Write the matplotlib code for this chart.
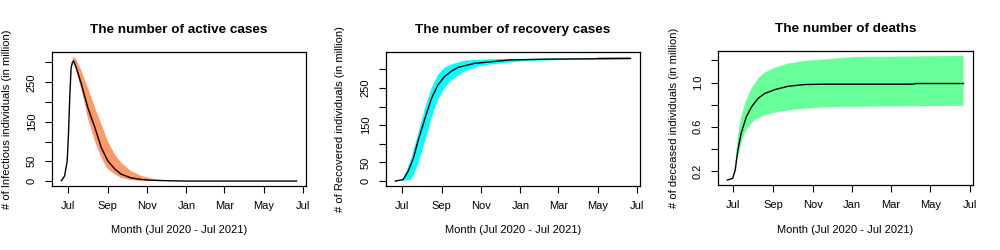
import numpy as np
import matplotlib
matplotlib.use("Agg")
import matplotlib.pyplot as plt
import matplotlib.dates as mdates
import datetime as dt

plt.rcParams['font.family'] = ['Liberation Sans', 'DejaVu Sans']

# Day offsets relative to 2020-07-01
active_days = [-10, -5, -1, 1, 3, 5, 7, 9, 13, 21, 31, 42, 52, 62, 73, 83, 98, 114, 124, 150, 180, 355]
active_vals = [1, 13, 51, 120, 215, 285, 300, 304, 287, 245, 186, 135, 84, 51, 30, 17, 8, 4, 2.5, 1, 0, 0]
active_up_days = [0, 3, 5, 8, 13, 21, 31, 42, 52, 62, 73, 83, 98, 114, 135, 152]
active_upper = [95, 215, 285, 314, 308, 279, 236, 186, 144, 101, 67, 46, 25, 13, 4, 0]
active_lo_days = [0, 3, 5, 8, 11, 16, 24, 31, 42, 52, 62, 73, 83, 98, 114, 152]
active_lower = [95, 215, 285, 300, 291, 262, 211, 160, 101, 59, 30, 17, 8, 2.5, 0, 0]

rec_days = [-10, 2, 10, 18, 25, 36, 46, 56, 66, 77, 87, 113, 138, 167, 224, 355]
rec_vals = [0, 4, 27, 62, 107, 169, 222, 258, 280, 295, 305, 316, 320, 325, 327, 329]
rec_up_days = [0, 5, 15, 25, 36, 46, 56, 66, 77, 97, 138, 167, 300, 305, 355]
rec_upper = [2, 18, 62, 125, 196, 249, 285, 304, 313, 323, 327, 328, 329, 333, 333]
rec_lo_days = [0, 15, 25, 36, 46, 56, 66, 77, 97, 118, 138, 167, 190, 250, 355]
rec_lower = [0, 4, 44, 107, 169, 218, 249, 271, 294, 307, 313, 318, 322, 325, 327]

death_days = [-8, 0, 4, 8, 13, 21, 29, 39, 49, 65, 85, 111, 143, 277, 282, 355]
death_vals = [0.119, 0.134, 0.209, 0.389, 0.54, 0.69, 0.78, 0.856, 0.90, 0.936, 0.966, 0.982, 0.985, 0.985, 0.991, 0.991]
death_up_days = [2, 8, 13, 21, 29, 39, 49, 65, 85, 111, 136, 162, 184, 355]
death_upper = [0.17, 0.509, 0.69, 0.84, 0.946, 1.036, 1.09, 1.135, 1.171, 1.195, 1.207, 1.219, 1.231, 1.24]
death_lo_days = [2, 6, 11, 16, 24, 34, 49, 70, 95, 136, 164, 355]
death_lower = [0.17, 0.30, 0.389, 0.509, 0.60, 0.66, 0.705, 0.735, 0.756, 0.774, 0.78, 0.789]

titles = ["The number of active cases", "The number of recovery cases", "The number of deaths"]
ylabels = ["# of Infectious individuals (in million)",
           "# of Recovered individuals (in million)",
           "# of deceased individuals (in million)"]
xlabel = "Month (Jul 2020 - Jul 2021)"
band_colors = ["#FF9966", "#00FFFF", "#66FF99"]
month_ticks = ["2020-07-01", "2020-09-01", "2020-11-01", "2021-01-01", "2021-03-01", "2021-05-01", "2021-07-01"]
month_labels = ["Jul", "Sep", "Nov", "Jan", "Mar", "May", "Jul"]
yticks = [[0, 50, 100, 150, 200, 250, 300], [0, 50, 100, 150, 200, 250, 300], [0.2, 0.4, 0.6, 0.8, 1.0, 1.2]]
ytick_labels = [["0", "50", "", "150", "", "250", ""], ["0", "50", "", "150", "", "250", ""],
                ["0.2", "", "0.6", "", "1.0", ""]]

base = dt.date(2020, 7, 1)
def to_num(days):
    return mdates.date2num([base + dt.timedelta(days=d) for d in days])

series = [
    (active_days, active_vals, active_up_days, active_upper, active_lo_days, active_lower),
    (rec_days, rec_vals, rec_up_days, rec_upper, rec_lo_days, rec_lower),
    (death_days, death_vals, death_up_days, death_upper, death_lo_days, death_lower),
]

fig = plt.figure(figsize=(10, 2.5), dpi=100)
# axes boxes in pixels: left, right, top, bottom
boxes = [(52, 306, 52, 186), (386, 640, 52, 186), (718, 973, 51, 185)]
ylabel_right = [12, 345, 679]

for i, (ld, lv, ud, uv, lod, lov) in enumerate(series):
    l, r, t, b = boxes[i]
    w, h = r - l, b - t
    ax = fig.add_axes([l / 1000, 1 - b / 250, w / 1000, h / 250])
    x = to_num(ld)
    xu = to_num(ud)
    xl = to_num(lod)
    # polygon: upper edge forward, lower edge backward
    px = np.concatenate([xu, xl[::-1]])
    py = np.concatenate([uv, lov[::-1]])
    ax.fill(px, py, color=band_colors[i], lw=0)
    ax.plot(x, lv, color="black", lw=1.0)
    # R-style 4% padding
    xmin = min(x.min(), xu.min(), xl.min()); xmax = max(x.max(), xu.max(), xl.max())
    dx = (xmax - xmin) * 0.04
    ax.set_xlim(xmin - dx, xmax + dx)
    ymin = min(min(lv), min(lov)); ymax = max(max(lv), max(uv))
    dy = (ymax - ymin) * 0.04
    ax.set_ylim(ymin - dy, ymax + dy)
    ax.set_xticks(mdates.date2num([dt.date.fromisoformat(s) for s in month_ticks]))
    ax.set_xticklabels(month_labels)
    ax.set_yticks(yticks[i])
    ax.set_yticklabels(ytick_labels[i], rotation=90, va="center")
    ax.tick_params(axis="both", direction="out", length=5, width=0.8, labelsize=8, color="black")
    ax.tick_params(axis="x", pad=6)
    ax.tick_params(axis="y", pad=6)
    for sp in ax.spines.values():
        sp.set_linewidth(0.9)
        sp.set_color("black")
    ax.set_title(titles[i], fontsize=9.7, fontweight="bold", pad=14)
    ax.set_xlabel(xlabel, fontsize=8)
    ax.set_ylabel(ylabels[i], fontsize=8)
    ax.xaxis.set_label_coords(0.5, -(225 - b) / h)
    ax.yaxis.set_label_coords((ylabel_right[i] - l) / w, 0.5)

fig.savefig("out.png", dpi=100)
